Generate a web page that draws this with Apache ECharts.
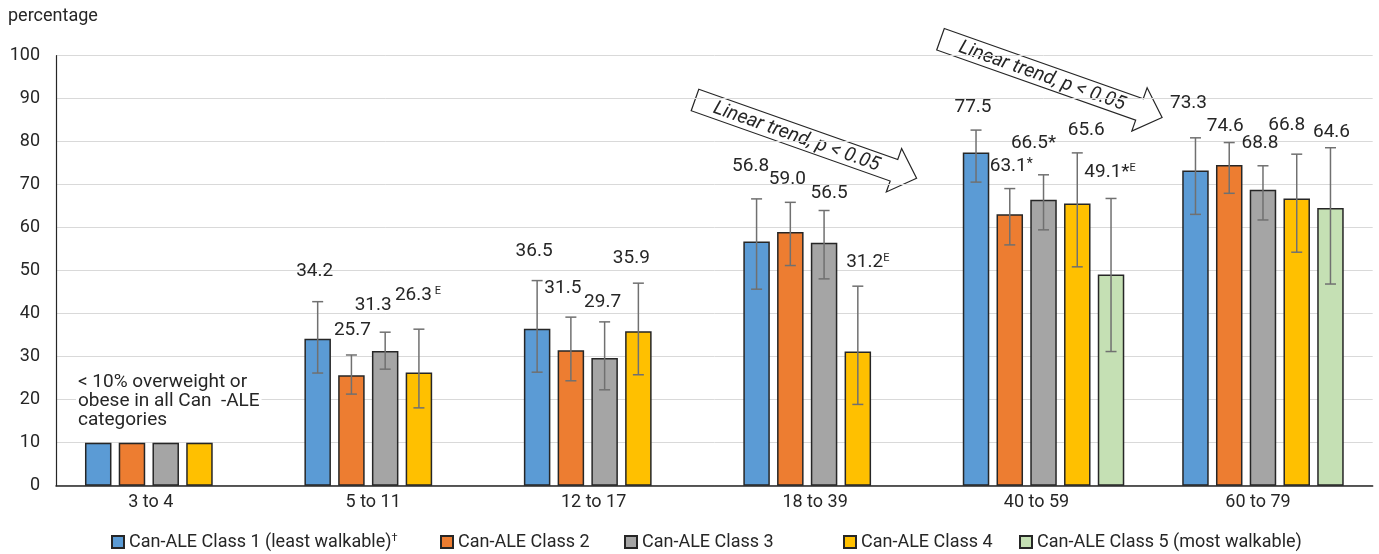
<!DOCTYPE html>
<html>
<head>
<meta charset="utf-8">
<script src="https://cdn.jsdelivr.net/npm/echarts@6/dist/echarts.min.js"></script>
<style>html,body{margin:0;padding:0;background:#fff;}#chart{width:1379px;height:554px;}</style>
</head>
<body>
<div id="chart"></div>
<script>
// ---------- data ----------
const categories = ['3 to 4', '5 to 11', '12 to 17', '18 to 39', '40 to 59', '60 to 79'];
const seriesNames = ['Can-ALE Class 1 (least walkable)', 'Can-ALE Class 2', 'Can-ALE Class 3', 'Can-ALE Class 4', 'Can-ALE Class 5 (most walkable)'];

const class1 = [10, 34.2, 36.5, 56.8, 77.5, 73.3];
const class2 = [10, 25.7, 31.5, 59.0, 63.1, 74.6];
const class3 = [10, 31.3, 29.7, 56.5, 66.5, 68.8];
const class4 = [10, 26.3, 35.9, 31.2, 65.6, 66.8];
const class5 = [null, null, null, null, 49.1, 64.6];

const class1Low  = [null, 26.2, 26.4, 45.7, 70.6, 63.1];
const class1High = [null, 42.8, 47.7, 66.7, 82.7, 80.9];
const class2Low  = [null, 21.3, 24.4, 51.2, 56.0, 68.0];
const class2High = [null, 30.4, 39.2, 65.9, 69.1, 79.8];
const class3Low  = [null, 27.1, 22.3, 48.1, 59.5, 61.8];
const class3High = [null, 35.7, 38.1, 64.0, 72.3, 74.4];
const class4Low  = [null, 18.1, 25.8, 18.9, 50.9, 54.3];
const class4High = [null, 36.4, 47.1, 46.4, 77.4, 77.1];
const class5Low  = [null, null, null, null, 31.2, 46.9];
const class5High = [null, null, null, null, 66.8, 78.6];

// footnote marks after the values
const class1Marks = ['', '', '', '', '', ''];
const class2Marks = ['', '', '', '', '*', ''];
const class3Marks = ['', '', '', '', '*', ''];
const class4Marks = ['', ' E', '', 'E', '', ''];
const class5Marks = ['', '', '', '', '*E', ''];

const yTickLabels = ['0', '10', '20', '30', '40', '50', '60', '70', '80', '90', '100'];

// ---------- layout (label placement, not data) ----------
const labelDx1 = [0, -3, -3, -6, -3, -7];
const labelDx2 = [0, 1, -8, -3, 1.5, -4];
const labelDx3 = [0, -12, -2, 5, -10, -3];
const labelDx4 = [0, -1, -7, 10, 9, -10];
const labelDx5 = [0, 0, 0, 0, -1, 1];
const labelAt1 = [null, 49.8, 54.6, 74.3, 88.0, 88.9];
const labelAt2 = [null, 36.2, 46.0, 71.3, 74.2, 83.7];
const labelAt3 = [null, 42.0, 42.6, 68.0, 79.6, 79.6];
const labelAt4 = [null, 44.3, 52.9, 51.9, 82.7, 83.9];
const labelAt5 = [null, null, null, null, 73.0, 82.1];
const catLabelShift = [-15, -12, -11, -9, -7, -5];

const values = [class1, class2, class3, class4, class5];
const lows = [class1Low, class2Low, class3Low, class4Low, class5Low];
const highs = [class1High, class2High, class3High, class4High, class5High];
const marks = [class1Marks, class2Marks, class3Marks, class4Marks, class5Marks];
const labelDx = [labelDx1, labelDx2, labelDx3, labelDx4, labelDx5];
const labelAt = [labelAt1, labelAt2, labelAt3, labelAt4, labelAt5];

const colors = ['#5B9BD5', '#ED7D31', '#A5A5A5', '#FFC000', '#C5E0B4'];
const TXT = '#262626';
const FONT = 'Roboto';
const BAR_W = 26.5, BAR_GAP = 7.25, STEP = BAR_W + BAR_GAP;

function richLabel(v, mark, i) {
  let s = '{n|' + v.toFixed(1) + '}';
  for (const ch of mark) {
    if (ch === '*') s += (i === 1 ? '{ss|*}' : '{a|*}');
    else if (ch === 'E') s += '{e|E}';
    else if (ch === ' ') s += '{sp| }';
  }
  return s;
}
const labelRich = {
  n: { fontSize: 19, fontFamily: FONT, fill: TXT, color: TXT },
  a: { fontSize: 19, fontFamily: FONT, fill: TXT, color: TXT },
  ss: { fontSize: 14, fontFamily: FONT, fill: TXT, color: TXT, verticalAlign: 'top' },
  e: { fontSize: 11, fontFamily: FONT, fill: TXT, color: TXT, verticalAlign: 'top' },
  sp: { fontSize: 11, fontFamily: FONT }
};

const series = [];
values.forEach((vals, i) => {
  series.push({
    type: 'bar',
    name: seriesNames[i],
    data: vals.map(v => v == null ? '-' : v),
    barWidth: BAR_W,
    barGap: (BAR_GAP / BAR_W * 100) + '%',
    itemStyle: { color: colors[i], borderColor: '#262626', borderWidth: 1.5 },
    emphasis: { disabled: true },
    z: 2
  });
});
values.forEach((vals, i) => {
  const data = [];
  vals.forEach((v, j) => {
    if (lows[i][j] != null) data.push([j, lows[i][j], highs[i][j], labelAt[i][j], v]);
  });
  series.push({
    type: 'custom',
    name: 'err' + i,
    coordinateSystem: 'cartesian2d',
    encode: { x: 0, y: [1, 2] },
    z: 5,
    silent: true,
    data: data,
    renderItem: function (params, api) {
      const j = api.value(0);
      const lo = api.coord([j, api.value(1)]);
      const hi = api.coord([j, api.value(2)]);
      const lab = api.coord([j, api.value(3)]);
      const cx = lo[0] + (i - 2) * STEP;
      const cap = 5.5;
      const ls = { stroke: '#707070', lineWidth: 1.5 };
      return {
        type: 'group',
        children: [
          { type: 'line', shape: { x1: cx, y1: lo[1], x2: cx, y2: hi[1] }, style: ls },
          { type: 'line', shape: { x1: cx - cap, y1: lo[1], x2: cx + cap, y2: lo[1] }, style: ls },
          { type: 'line', shape: { x1: cx - cap, y1: hi[1], x2: cx + cap, y2: hi[1] }, style: ls },
          {
            type: 'text', x: cx + labelDx[i][j], y: lab[1],
            style: {
              text: richLabel(api.value(4), marks[i][j], i),
              rich: labelRich, align: 'center', verticalAlign: 'middle',
              fontSize: 19, fontFamily: FONT, fill: TXT
            }
          }
        ]
      };
    }
  });
});

function arrow(x, y) {
  const ang = 19.45 * Math.PI / 180;
  return {
    type: 'group', x: x, y: y, rotation: -ang, silent: true, z: 20,
    children: [
      {
        type: 'polygon',
        shape: { points: [[0, -11.4], [211, -11.4], [211, -23], [235, 0], [211, 23], [211, 11.4], [0, 11.4]] },
        style: { fill: '#fff', stroke: '#262626', lineWidth: 1.2 }
      },
      {
        type: 'text', x: 108, y: 1,
        style: {
          text: 'Linear trend, p < 0.05', fontSize: 19.5, fontStyle: 'italic', fontFamily: FONT,
          fill: TXT, align: 'center', verticalAlign: 'middle'
        }
      }
    ]
  };
}

const legendLeft = [111, 440, 624, 843, 1019];
const legends = seriesNames.map((n, i) => ({
  data: [n],
  left: legendLeft[i],
  top: 533,
  padding: 0,
  itemWidth: 12,
  itemHeight: 12,
  itemGap: 5,
  icon: 'rect',
  selectedMode: false,
  textStyle: {
    fontSize: 18, fontFamily: FONT, color: TXT,
    rich: { s: { fontSize: 11, fontFamily: FONT, color: TXT, verticalAlign: 'top' }, t: { fontSize: 18, fontFamily: FONT, color: TXT } }
  },
  formatter: i === 0 ? (name => '{t|' + name + '}{s|†}') : undefined
}));

const chart = echarts.init(document.getElementById('chart'), null, { renderer: 'canvas' });
chart.setOption({
  animation: false,
  backgroundColor: '#fff',
  textStyle: { fontFamily: FONT },
  title: {
    text: 'percentage', left: 8, top: 7, padding: 0,
    textStyle: { fontSize: 18, fontWeight: 'normal', color: TXT, fontFamily: FONT }
  },
  legend: legends,
  grid: { left: 56, right: 6.3, top: 55.7, bottom: 68.3, containLabel: false },
  xAxis: {
    type: 'category',
    data: categories.map((c, k) => ({ value: c, textStyle: { padding: catLabelShift[k] < 0 ? [0, -2 * catLabelShift[k], 0, 0] : [0, 0, 0, 2 * catLabelShift[k]] } })),
    axisLine: { lineStyle: { color: '#262626', width: 1.5 } },
    axisTick: { show: false },
    axisLabel: { fontSize: 18, color: TXT, fontFamily: FONT, margin: 8, interval: 0 },
    splitLine: { show: false }
  },
  yAxis: {
    type: 'value', min: 0, max: 100, interval: 10,
    axisLine: { show: true, lineStyle: { color: '#262626', width: 1.2 } },
    axisTick: { show: false },
    axisLabel: { fontSize: 18, color: TXT, fontFamily: FONT, margin: 16, formatter: v => yTickLabels[Math.round(v / 10)] },
    splitLine: { lineStyle: { color: '#d9d9d9', width: 1 } }
  },
  graphic: [
    arrow(695, 100),
    arrow(940.5, 39.2),
    {
      type: 'text', left: 76, top: 372, silent: true, z: 10,
      style: {
        text: '< 10% overweight or\nobese in all Can  -ALE\ncategories',
        fontSize: 19, lineHeight: 19, fontFamily: FONT, fill: TXT,
        backgroundColor: '#fff', padding: [1, 2, 1, 2]
      }
    }
  ],
  series: series
});
</script>
</body>
</html>
